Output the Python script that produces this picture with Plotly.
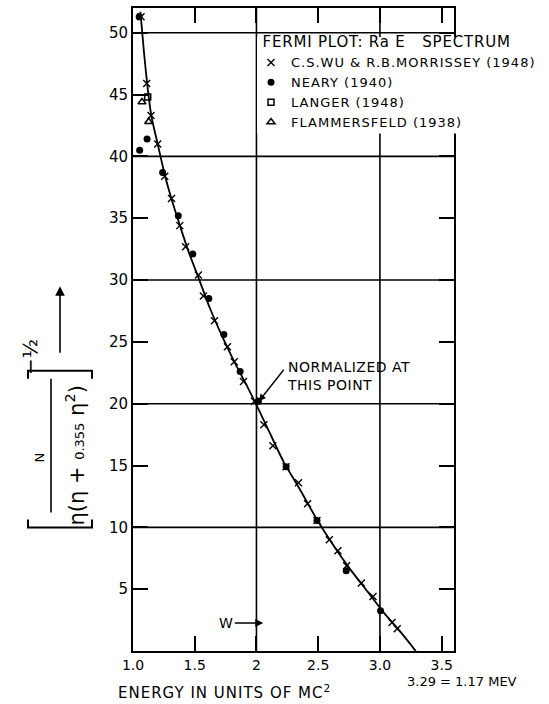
import plotly.graph_objects as go

# ---------------- data ----------------
wu_x = [1.065, 1.111, 1.146, 1.20, 1.257, 1.312, 1.379, 1.426, 1.53, 1.57, 1.66,
        1.765, 1.82, 1.895, 1.984, 2.06, 2.133, 2.24, 2.34, 2.414, 2.49, 2.59,
        2.66, 2.73, 2.85, 2.944, 3.098, 3.14]
wu_y = [51.3, 45.9, 43.3, 41.0, 38.4, 36.6, 34.4, 32.7, 30.4, 28.7, 26.7,
        24.6, 23.4, 21.8, 20.2, 18.3, 16.6, 14.9, 13.6, 11.9, 10.55, 9.0,
        8.1, 6.9, 5.5, 4.4, 2.3, 1.8]

neary_x = [1.05, 1.054, 1.114, 1.24, 1.367, 1.484, 1.614, 1.736, 1.868, 2.016,
           2.24, 2.49, 2.727, 3.005]
neary_y = [51.3, 40.5, 41.4, 38.7, 35.2, 32.1, 28.5, 25.6, 22.6, 20.2,
           14.9, 10.55, 6.5, 3.25]

langer_x = [1.119]
langer_y = [44.8]

flam_x = [1.073, 1.127]
flam_y = [44.4, 42.8]

curve_x = [1.06, 1.09, 1.12, 1.15, 1.20, 1.26, 1.32, 1.38, 1.45, 1.53, 1.62, 1.72,
           1.82, 1.92, 2.00, 2.10, 2.22, 2.35, 2.48, 2.62, 2.76, 2.90, 3.04, 3.17, 3.29]
curve_y = [51.7, 48.3, 45.4, 43.2, 41.0, 38.4, 36.3, 34.4, 32.3, 30.2, 27.8, 25.5,
           23.4, 21.5, 19.9, 17.8, 15.3, 13.1, 10.8, 8.6, 6.6, 4.8, 3.0, 1.5, 0.0]

x_tickvals = [1.0, 1.5, 2.0, 2.5, 3.0, 3.5]
x_ticktext = ["1.0", "1.5", "2", "2.5", "3.0", "3.5"]
y_tickvals = [5, 10, 15, 20, 25, 30, 35, 40, 45, 50]
y_ticktext = ["5", "10", "15", "20", "25", "30", "35", "40", "45", "50"]
grid_x = [2.0, 3.0]
grid_y = [10, 20, 30, 40, 50]

series_names = ["C.S.WU & R.B.MORRISSEY (1948)", "NEARY (1940)", "LANGER (1948)",
                "FLAMMERSFELD (1938)"]
legend_title = "FERMI PLOT: Ra E   SPECTRUM"

norm_x, norm_y = 2.02, 20.2
w_arrow_x, w_arrow_y = 2.055, 2.26

FONT = "DejaVu Sans"

# ---------------- layout helpers (pixel -> paper) ----------------
L, R, T, B = 133, 95, 6, 53
W, H = 549, 704
PW, PH = W - L - R, H - T - B


def px(x):
    return (x - L) / PW


def py(y):
    return (H - B - y) / PH


def spaced(s, ls):
    return f"<span style='letter-spacing:{ls}px'>{s}</span>"


fig = go.Figure()

fig.add_trace(go.Scatter(x=curve_x, y=curve_y, mode="lines",
                         line=dict(color="black", width=1.8, shape="spline", smoothing=0.6),
                         showlegend=False, hoverinfo="skip"))
fig.add_trace(go.Scatter(x=wu_x, y=wu_y, mode="markers", name=spaced(series_names[0], 1.0),
                         marker=dict(symbol="x-thin", size=7, color="black",
                                     line=dict(color="black", width=1.4))))
fig.add_trace(go.Scatter(x=neary_x, y=neary_y, mode="markers", name=spaced(series_names[1], 1.0),
                         marker=dict(symbol="circle", size=7, color="black")))
fig.add_trace(go.Scatter(x=langer_x, y=langer_y, mode="markers", name=spaced(series_names[2], 1.0),
                         marker=dict(symbol="square-open", size=6, color="black",
                                     line=dict(color="black", width=1.5))))
fig.add_trace(go.Scatter(x=flam_x, y=flam_y, mode="markers", name=spaced(series_names[3], 1.0),
                         marker=dict(symbol="triangle-up-open", size=7, color="black",
                                     line=dict(color="black", width=1.5))))

shapes = []
for gx in grid_x:
    shapes.append(dict(type="line", xref="x", yref="paper", x0=gx, x1=gx, y0=0, y1=1,
                       line=dict(color="black", width=1.6), layer="below"))
for gy in grid_y:
    shapes.append(dict(type="line", xref="paper", yref="y", x0=0, x1=1, y0=gy, y1=gy,
                       line=dict(color="black", width=1.6), layer="below"))

# white backing behind the legend block (keeps the 50 grid line visible above it)
shapes.append(dict(type="rect", xref="paper", yref="paper", x0=px(257), x1=px(549),
                   y0=py(132), y1=py(35), fillcolor="white", line=dict(width=0),
                   layer="above"))

# y-axis label brackets and fraction bar
lw = dict(color="black", width=2)
bx0, bx1 = 28, 92
ytop, ybot = 370, 527
shapes.append(dict(type="path", xref="paper", yref="paper",
                   path=f"M {px(bx0)} {py(ytop+8)} L {px(bx0)} {py(ytop)} L {px(bx1)} {py(ytop)} L {px(bx1)} {py(ytop+8)}",
                   line=lw))
shapes.append(dict(type="path", xref="paper", yref="paper",
                   path=f"M {px(bx0)} {py(ybot-8)} L {px(bx0)} {py(ybot)} L {px(bx1)} {py(ybot)} L {px(bx1)} {py(ybot-8)}",
                   line=lw))
shapes.append(dict(type="line", xref="paper", yref="paper", x0=px(51), x1=px(51),
                   y0=py(378), y1=py(512), line=dict(color="black", width=1.6)))

annotations = [
    dict(xref="paper", yref="paper", x=px(40), y=py(457), text="N", textangle=-90,
         showarrow=False, xanchor="center", yanchor="middle",
         font=dict(family=FONT, size=13, color="black")),
    dict(xref="paper", yref="paper", x=px(75), y=py(455),
         text="η(η + <span style='font-size:13px'>0.355</span> η<sup>2</sup>)",
         textangle=-90, showarrow=False, xanchor="center", yanchor="middle",
         font=dict(family=FONT, size=21, color="black")),
    dict(xref="paper", yref="paper", x=px(30), y=py(356), text="−½", textangle=-90,
         showarrow=False, xanchor="center", yanchor="middle",
         font=dict(family=FONT, size=20, color="black")),
    dict(xref="paper", yref="paper", x=px(60), y=py(285), text="", showarrow=True,
         axref="pixel", ayref="pixel", ax=0, ay=68, arrowhead=2, arrowsize=1.2,
         arrowwidth=1.6, arrowcolor="black"),
    # x axis title and note
    dict(xref="paper", yref="paper", x=px(116), y=py(692),
         text=spaced("ENERGY IN UNITS OF MC", 1.0) + "<sup>2</sup>",
         showarrow=False, xanchor="left", yanchor="middle",
         font=dict(family=FONT, size=15, color="black")),
    dict(xref="paper", yref="paper", x=px(405), y=py(682), text="3.29 = 1.17 MEV",
         showarrow=False, xanchor="left", yanchor="middle",
         font=dict(family=FONT, size=13, color="black")),
    # normalized annotation
    dict(xref="paper", yref="paper", x=px(285), y=py(375),
         text=spaced("NORMALIZED AT", 0.5) + "<br>" + spaced("THIS POINT", 0.5),
         showarrow=False, xanchor="left", yanchor="middle", align="left",
         font=dict(family=FONT, size=14, color="black")),
    dict(xref="x", yref="y", x=norm_x, y=norm_y, text="", showarrow=True,
         axref="pixel", ayref="pixel", ax=26, ay=-33, arrowhead=2, arrowsize=1,
         arrowwidth=1.4, arrowcolor="black"),
    # W arrow
    dict(xref="x", yref="y", x=w_arrow_x, y=w_arrow_y, text="", showarrow=True,
         axref="pixel", ayref="pixel", ax=-30, ay=0, arrowhead=2, arrowsize=1,
         arrowwidth=1.6, arrowcolor="black"),
    dict(xref="paper", yref="paper", x=px(226), y=py(623), text="W", showarrow=False,
         xanchor="center", yanchor="middle", font=dict(family=FONT, size=14, color="black")),
]

fig.update_layout(
    width=W, height=H,
    margin=dict(l=L, r=R, t=T, b=B),
    paper_bgcolor="white", plot_bgcolor="white",
    font=dict(family=FONT, size=14, color="black"),
    xaxis=dict(range=[1.0, 3.6], tickvals=x_tickvals, ticktext=x_ticktext,
               ticks="inside", ticklen=15, tickwidth=1.6, tickcolor="black",
               showline=True, linewidth=2, linecolor="black", mirror="ticks",
               showgrid=False, zeroline=False,
               tickfont=dict(family=FONT, size=14, color="black")),
    yaxis=dict(range=[0, 52], tickvals=y_tickvals, ticktext=y_ticktext,
               ticks="inside", ticklen=15, tickwidth=1.6, tickcolor="black",
               showline=True, linewidth=2, linecolor="black", mirror="ticks",
               showgrid=False, zeroline=False,
               tickfont=dict(family=FONT, size=15, color="black")),
    legend=dict(x=px(251), y=py(26), xanchor="left", yanchor="top",
                bgcolor="rgba(255,255,255,0)", borderwidth=0,
                title=dict(text="  " + spaced(legend_title, 0.8),
                           font=dict(family=FONT, size=15)),
                font=dict(family=FONT, size=13, color="black"),
                tracegroupgap=0),
    shapes=shapes,
    annotations=annotations,
    showlegend=True,
)

fig.write_html("out.html", config={"displayModeBar": False},
               post_script="document.body.style.margin='0';")
